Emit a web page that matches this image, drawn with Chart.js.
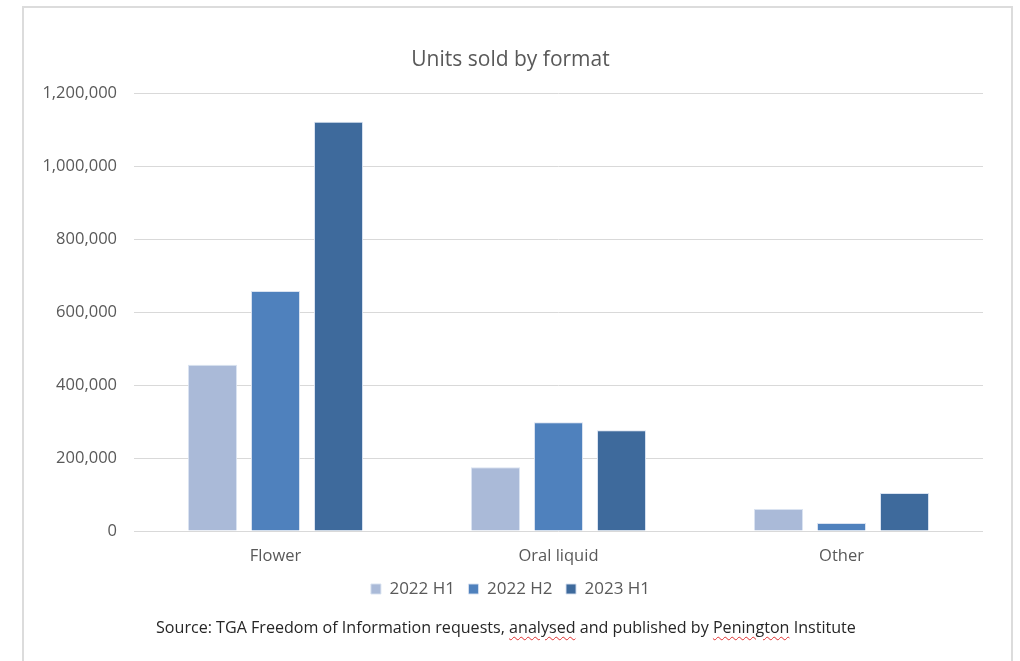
<!DOCTYPE html>
<html>
<head>
<meta charset="utf-8">
<title>Units sold by format</title>
<script src="https://cdn.jsdelivr.net/npm/chart.js@4/dist/chart.umd.min.js"></script>
<style>
  html, body { margin: 0; padding: 0; background: #ffffff; }
  body { width: 1020px; height: 661px; position: relative; overflow: hidden; font-family: "Open Sans", sans-serif; }
  #frame {
    position: absolute; left: 22px; top: 6px; width: 991px; height: 700px;
    border: 2px solid #dcdcdc; box-sizing: border-box;
  }
  #wrap { position: absolute; left: 38px; top: 8px; width: 974px; height: 620px; }
  #source {
    position: absolute; left: 156px; top: 616px; white-space: nowrap;
    font-size: 16.1px; color: #262626;
  }
  .sp { text-decoration: underline wavy #e03030; text-decoration-thickness: 1px; text-underline-offset: 3px; }
</style>
</head>
<body>
<div id="frame"></div>
<div id="wrap"><canvas id="chart" width="974" height="620"></canvas></div>
<div id="source">Source: TGA Freedom of Information requests, <span class="sp">analysed</span> and published by <span class="sp">Penington</span> Institute</div>
<script>
// Product formats on the category axis
const categories = ['Flower', 'Oral liquid', 'Other'];
// Reporting periods, one series each
const periods = ['2022 H1', '2022 H2', '2023 H1'];
// Units sold per format in each period
const units2022H1 = [456000, 175000, 60000];
const units2022H2 = [658000, 298000, 22000];
const units2023H1 = [1122000, 276000, 104000];
// Value axis ticks
const yTicks = [0, 200000, 400000, 600000, 800000, 1000000, 1200000];

const colours = ['#aabad8', '#4f81bd', '#3e6a9c'];
const seriesValues = [units2022H1, units2022H2, units2023H1];
const textGrey = '#595959';
const fontFamily = '"Open Sans", sans-serif';

new Chart(document.getElementById('chart'), {
  type: 'bar',
  data: {
    labels: categories,
    datasets: periods.map((p, i) => ({
      label: p,
      data: seriesValues[i],
      backgroundColor: colours[i],
      borderColor: 'rgba(214,224,240,0.9)',
      borderWidth: 1,
      categoryPercentage: 0.668,
      barPercentage: 0.778
    }))
  },
  options: {
    responsive: false,
    animation: false,
    devicePixelRatio: 1,
    layout: { padding: { left: 0, right: 29, top: 0, bottom: 20.5 } },
    plugins: {
      title: {
        display: true,
        text: 'Units sold by format',
        color: textGrey,
        font: { family: fontFamily, size: 21, weight: 'normal' },
        padding: { top: 39, bottom: 21 }
      },
      legend: {
        display: true,
        position: 'bottom',
        labels: {
          color: textGrey,
          font: { family: fontFamily, size: 17 },
          boxWidth: 10,
          boxHeight: 10,
          padding: 13.5
        }
      },
      tooltip: { enabled: false }
    },
    scales: {
      x: {
        grid: { display: false, drawTicks: false },
        border: { display: false },
        ticks: {
          color: textGrey,
          font: { family: fontFamily, size: 16.5 },
          padding: 15
        },
        afterFit: (scale) => { scale.height = 36; }
      },
      y: {
        min: 0,
        max: 1200000,
        afterBuildTicks: (scale) => { scale.ticks = yTicks.map(v => ({ value: v })); },
        grid: { color: '#d9d9d9', lineWidth: 1, drawTicks: false },
        border: { display: false },
        ticks: {
          color: textGrey,
          font: { family: fontFamily, size: 16.5 },
          padding: 17,
          callback: (v) => Number(v).toLocaleString('en-US')
        },
        afterFit: (scale) => { scale.width = 96; }
      }
    }
  }
});
</script>
</body>
</html>
